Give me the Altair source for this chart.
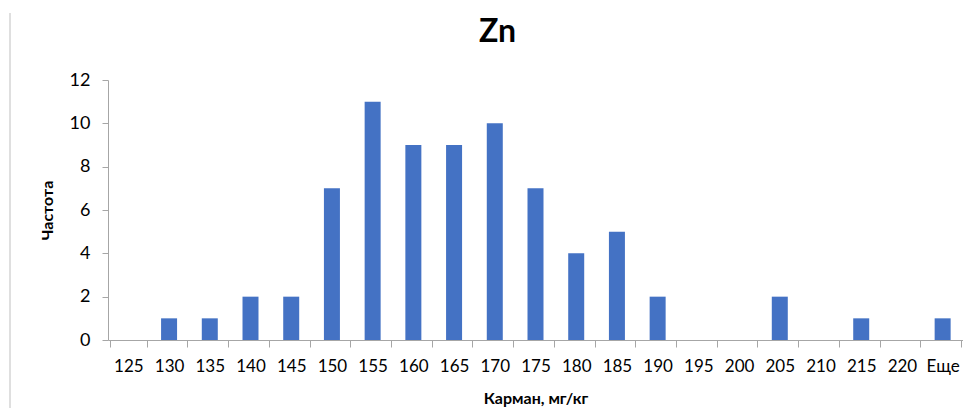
import altair as alt
import pandas as pd

categories = ["125", "130", "135", "140", "145", "150", "155", "160", "165", "170",
              "175", "180", "185", "190", "195", "200", "205", "210", "215", "220", "Еще"]
counts = [0, 1, 1, 2, 2, 7, 11, 9, 9, 10, 7, 4, 5, 2, 0, 0, 2, 0, 1, 0, 1]

df = pd.DataFrame({"bin": categories, "count": counts})
FONT = "Lato"

bars = alt.Chart(df).mark_bar(color="#4472C4", width=16).encode(
    x=alt.X("bin:N", sort=categories, title="Карман, мг/кг",
            axis=alt.Axis(labelAngle=0, labelFontSize=17, labelFont=FONT, labelColor="#000000",
                          titleFontSize=16, titleFont=FONT, titleFontWeight="bold", titleColor="#000000",
                          domainColor="#A6A6A6", tickColor="#A6A6A6", tickSize=7, tickBand="extent",
                          labelPadding=11, titlePadding=16, grid=False)),
    y=alt.Y("count:Q", title="Частота", scale=alt.Scale(domain=[0, 12]),
            axis=alt.Axis(values=[0, 2, 4, 6, 8, 10, 12], labelFontSize=18, labelFont=FONT,
                          labelColor="#000000", titleFontSize=16, titleFont=FONT,
                          titleFontWeight="bold", titleColor="#000000", domainColor="#A6A6A6",
                          tickColor="#A6A6A6", tickSize=6, labelPadding=12, titlePadding=14,
                          grid=False)),
)

border = alt.Chart(pd.DataFrame({"k": [0]})).mark_rule(color="#BFBFBF", strokeWidth=1, clip=False).encode(
    x=alt.value(-98), y=alt.value(-67), y2=alt.value(340)
)

chart = alt.layer(border, bars).properties(
    width=855, height=260,
    background="white",
    title=alt.TitleParams("Zn", fontSize=32, font=FONT, fontWeight="bold", color="#000000",
                          anchor="middle", dx=-38, offset=-36),
    autosize=alt.AutoSizeParams(type="none"),
    padding={"left": 100, "top": 72, "right": 0, "bottom": 68},
).configure_view(stroke=None, strokeWidth=0)

chart.save("out.html", embed_options={"renderer": "svg", "actions": False})
